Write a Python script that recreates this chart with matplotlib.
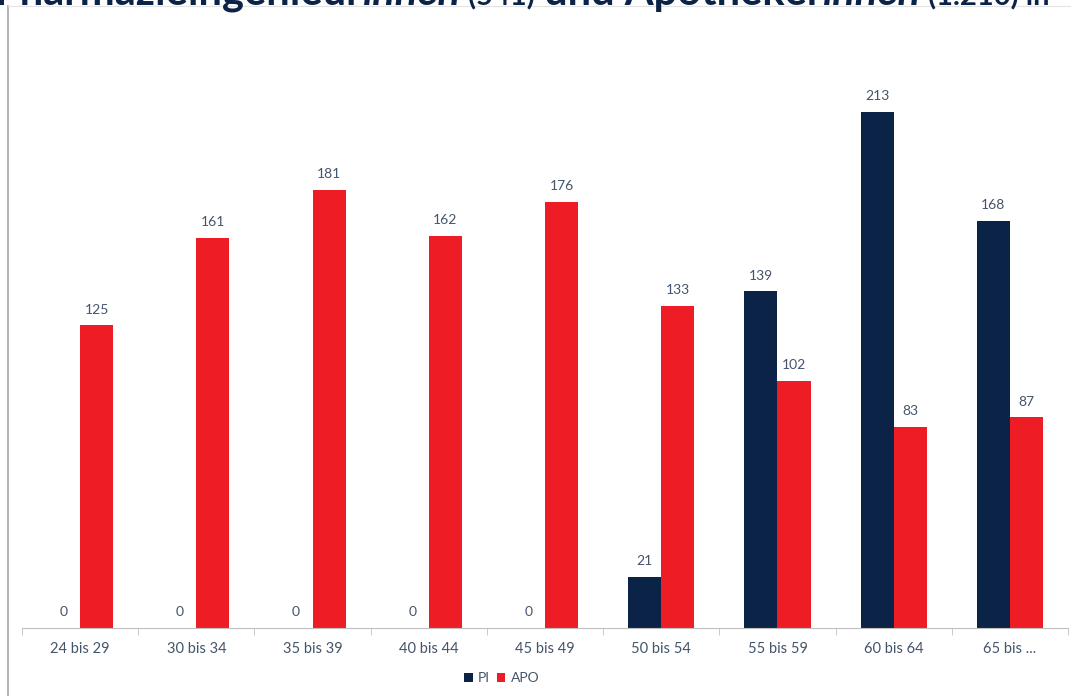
import matplotlib
matplotlib.use("Agg")
import matplotlib.pyplot as plt
import numpy as np
from matplotlib.lines import Line2D

plt.rcParams['font.family'] = ['Lato', 'DejaVu Sans']

# 데이터
categories = ["24 bis 29", "30 bis 34", "35 bis 39", "40 bis 44", "45 bis 49",
              "50 bis 54", "55 bis 59", "60 bis 64", "65 bis ..."]
pi_values = [0, 0, 0, 0, 0, 21, 139, 213, 168]
apo_values = [125, 161, 181, 162, 176, 133, 102, 83, 87]

navy = "#0B2346"
red = "#EE1C25"
text_col = "#44546A"

fig = plt.figure(figsize=(10.71, 6.96), dpi=100)
ax = fig.add_axes([22 / 1071, 68 / 696, 1046 / 1071, 557 / 696])

x = np.arange(len(categories))
w = 0.285
b1 = ax.bar(x - w / 2, pi_values, w, color=navy, label="PI")
b2 = ax.bar(x + w / 2, apo_values, w, color=red, label="APO")

for bars in (b1, b2):
    for r in bars:
        ax.text(r.get_x() + r.get_width() / 2, r.get_height() + 4, f"{int(r.get_height())}",
                ha="center", va="bottom", fontsize=10, color=text_col)

ax.set_xlim(-0.5, len(categories) - 0.5)
ax.set_ylim(0, 230)
ax.set_yticks([])
for s in ["top", "right", "left"]:
    ax.spines[s].set_visible(False)
ax.spines["bottom"].set_color("#BFBFBF")
ax.set_xticks(x)
ax.set_xticklabels(categories, fontsize=10.5, color=text_col)
ax.tick_params(axis="x", length=0, pad=10)
ax.set_xticks(np.arange(-0.5, len(categories)), minor=True)
ax.tick_params(axis="x", which="minor", length=5, color="#BFBFBF")

leg = fig.legend(handles=[b1, b2], labels=["PI", "APO"], loc="center",
                 bbox_to_anchor=(502 / 1071, 1 - 678 / 696), ncol=2, frameon=False,
                 fontsize=10, labelcolor=text_col, handlelength=0.6, handleheight=0.6,
                 handletextpad=0.4, columnspacing=0.5)

# 슬라이드 테두리
fig.add_artist(Line2D([8 / 1071, 8 / 1071], [0, 1 - 6 / 696], color="#A6A6A6", lw=1.2))
fig.add_artist(Line2D([8 / 1071, 1], [1 - 6 / 696, 1 - 6 / 696], color="#E3E3E3", lw=0.8))

# 제목 (위쪽이 잘린 상태)
pieces = [("Pharmazieingenieur", "normal", 30), ("innen", "italic", 30), (" (541)", "normal", 21),
          (" und Apotheker", "normal", 30), ("innen", "italic", 30), (" (1.210) in", "normal", 21)]
fig.canvas.draw()
renderer = fig.canvas.get_renderer()
xpos = -5
for txt, style, size in pieces:
    t = fig.text(xpos / 1071, 1 - 5 / 696, txt, fontsize=size, fontweight="bold", style=style,
                 color=navy, ha="left", va="baseline")
    xpos += t.get_window_extent(renderer).width

fig.savefig("out.png", dpi=100)
